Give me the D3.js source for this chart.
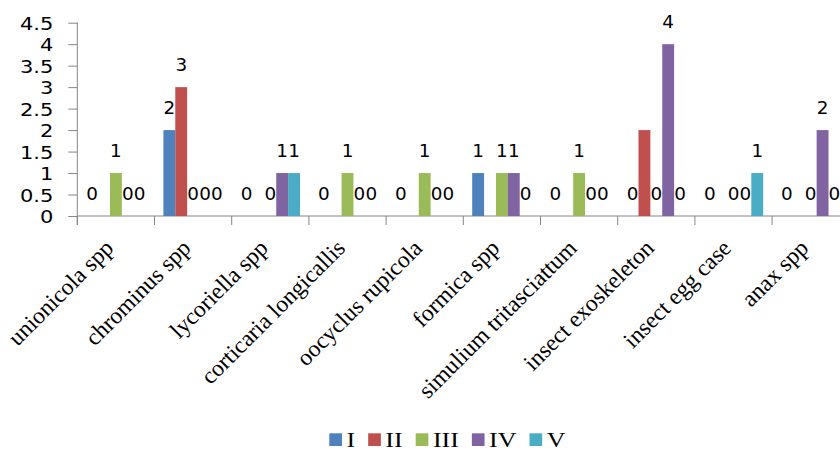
<!DOCTYPE html>
<html>
<head>
<meta charset="utf-8">
<script src="https://cdn.jsdelivr.net/npm/d3@7"></script>
<style>
  html, body { margin: 0; padding: 0; background: #ffffff; }
  svg { display: block; }
</style>
</head>
<body>
<svg id="chart" width="840" height="452"></svg>
<script>
const categories = ["unionicola spp", "chrominus spp", "lycoriella spp", "corticaria longicallis",
  "oocyclus rupicola", "formica spp", "simulium tritasciattum", "insect exoskeleton",
  "insect egg case", "anax spp"];
const seriesNames = ["I", "II", "III", "IV", "V"];
const valuesI   = [0, 2, 0, 0, 0, 1, 0, 0, 0, 0];
const valuesII  = [null, 3, null, null, null, null, null, 2, null, null];
const valuesIII = [1, 0, 0, 1, 1, 1, 1, 0, 0, 0];
const valuesIV  = [0, 0, 1, 0, 0, 1, 0, 4, 0, 2];
const valuesV   = [0, 0, 1, 0, 0, 0, 0, 0, 1, 0];
const hiddenLabels = [["insect exoskeleton", "II"]];
const yTicks = [0, 0.5, 1, 1.5, 2, 2.5, 3, 3.5, 4, 4.5];
const colors = ["#4F81BD", "#C0504D", "#9BBB59", "#8064A2", "#4BACC6"];

const seriesValues = [valuesI, valuesII, valuesIII, valuesIV, valuesV];
const svg = d3.select("#chart");
const axisColor = "#868686";
const sansFont = "'DejaVu Sans', Verdana, sans-serif";
const serifFont = "'Liberation Serif', 'Times New Roman', serif";

const x = d3.scaleBand().domain(categories).range([77.3, 849.3]).paddingInner(0).paddingOuter(0);
const x1 = d3.scaleBand().domain(seriesNames).range([0, x.bandwidth()]).paddingInner(0).paddingOuter(0.75);
const y = d3.scaleLinear().domain([0, 4.5]).range([216, 22.7]);
const color = d3.scaleOrdinal().domain(seriesNames).range(colors);

// Y axis
const yAxis = svg.append("g")
  .attr("transform", `translate(${x.range()[0]},0)`)
  .call(d3.axisLeft(y).tickValues(yTicks).tickSize(9).tickPadding(15).tickFormat(d => String(d)));
yAxis.select(".domain").attr("stroke", axisColor).attr("d", `M0,${y(4.5)}V${y(0) + 9}`);
yAxis.selectAll(".tick line").attr("stroke", axisColor);
yAxis.selectAll(".tick text")
  .attr("x", null)
  .attr("transform", "translate(-24,1) scale(1.2,1)")
  .attr("fill", "#000").style("font-family", sansFont).style("font-size", "17.5px");

// X axis line and ticks at category boundaries
const xAxis = svg.append("g");
xAxis.append("line")
  .attr("x1", x.range()[0]).attr("x2", x.range()[1])
  .attr("y1", y(0)).attr("y2", y(0))
  .attr("stroke", axisColor);
const boundaries = categories.map(c => x(c)).concat([x.range()[1]]);
xAxis.selectAll("line.tk").data(boundaries).join("line")
  .attr("class", "tk")
  .attr("x1", d => d).attr("x2", d => d)
  .attr("y1", y(0)).attr("y2", y(0) + 9)
  .attr("stroke", axisColor);

// category labels
xAxis.selectAll("text.cat").data(categories).join("text")
  .attr("class", "cat")
  .attr("text-anchor", "end")
  .attr("transform", d => `translate(${x(d) + x.bandwidth() / 2 - 1},${y(0) + 33.5}) rotate(-45)`)
  .style("font-family", serifFont)
  .style("font-size", "23.5px")
  .attr("fill", "#000")
  .text(d => d);

// Bars
const records = [];
categories.forEach((c, i) => {
  seriesNames.forEach((s, j) => {
    const v = seriesValues[j][i];
    if (v !== null && v !== undefined) records.push({ cat: c, series: s, value: v });
  });
});

svg.append("g").selectAll("rect").data(records.filter(d => d.value > 0)).join("rect")
  .attr("x", d => x(d.cat) + x1(d.series))
  .attr("width", x1.bandwidth())
  .attr("y", d => y(d.value))
  .attr("height", d => y(0) - y(d.value))
  .attr("fill", d => color(d.series));

// Value labels
const isHidden = d => hiddenLabels.some(h => h[0] === d.cat && h[1] === d.series);
svg.append("g").selectAll("text").data(records.filter(d => !isHidden(d))).join("text")
  .attr("transform", d => `translate(${x(d.cat) + x1(d.series) + x1.bandwidth() / 2},${y(d.value) - 16.5}) scale(1.05,1)`)
  .attr("text-anchor", "middle")
  .style("font-family", sansFont)
  .style("font-size", "17.5px")
  .attr("fill", "#000")
  .text(d => d.value);

// Legend
const legend = svg.append("g");
let lx = 329.3;
seriesNames.forEach((s, j) => {
  legend.append("rect").attr("x", lx).attr("y", 433.3).attr("width", 12.7).attr("height", 12.7).attr("fill", color(s));
  const t = legend.append("text")
    .attr("transform", `translate(${lx + 12.7 + 4.5},446.5) scale(1.3,1)`)
    .style("font-family", serifFont).style("font-size", "20px")
    .attr("fill", "#000").text(s);
  const w = t.node().getComputedTextLength() * 1.3;
  lx = lx + 12.7 + 4.5 + w + 13;
});
</script>
</body>
</html>
